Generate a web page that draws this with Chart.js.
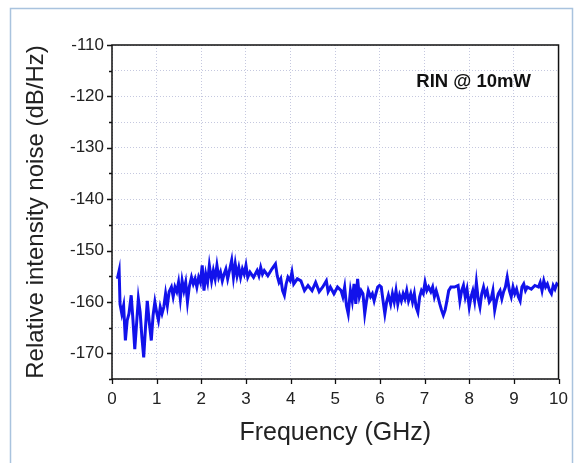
<!DOCTYPE html>
<html>
<head>
<meta charset="utf-8">
<script src="https://cdn.jsdelivr.net/npm/chart.js@4"></script>
<style>
  html, body { margin: 0; padding: 0; background: #fff; }
  #wrap { width: 578px; height: 463px; position: relative; }
</style>
</head>
<body>
<div id="wrap"><canvas id="rinChart" width="578" height="463"></canvas></div>
<script>
const freqGHz = [
  0.12, 0.16, 0.18, 0.22, 0.26, 0.30, 0.34, 0.38, 0.43, 0.47, 0.51, 0.55, 0.59, 0.63, 0.67, 0.71,
  0.75, 0.79, 0.83, 0.88, 0.92, 0.96, 1.00, 1.04, 1.08, 1.12, 1.16, 1.20, 1.24, 1.28, 1.33, 1.37,
  1.41, 1.45, 1.49, 1.53, 1.57, 1.61, 1.65, 1.69, 1.73, 1.78, 1.82, 1.86, 1.90, 1.94, 1.98, 2.02,
  2.06, 2.10, 2.14, 2.18, 2.23, 2.27, 2.31, 2.35, 2.39, 2.43, 2.47, 2.51, 2.55, 2.59, 2.63, 2.68,
  2.72, 2.76, 2.80, 2.84, 2.88, 2.92, 2.96, 3.00, 3.04, 3.09, 3.17, 3.25, 3.29, 3.33, 3.37, 3.41,
  3.49, 3.58, 3.66, 3.70, 3.74, 3.78, 3.82, 3.86, 3.90, 3.94, 3.99, 4.03, 4.07, 4.15, 4.23, 4.31,
  4.39, 4.48, 4.56, 4.64, 4.72, 4.80, 4.84, 4.89, 4.97, 5.05, 5.13, 5.17, 5.21, 5.25, 5.29, 5.34,
  5.38, 5.42, 5.46, 5.50, 5.54, 5.58, 5.62, 5.66, 5.70, 5.74, 5.79, 5.83, 5.87, 5.91, 5.95, 5.99,
  6.03, 6.07, 6.11, 6.15, 6.19, 6.24, 6.28, 6.32, 6.36, 6.40, 6.44, 6.48, 6.52, 6.56, 6.60, 6.64,
  6.69, 6.73, 6.77, 6.81, 6.85, 6.89, 6.93, 6.97, 7.01, 7.05, 7.09, 7.14, 7.18, 7.22, 7.26, 7.30,
  7.34, 7.38, 7.42, 7.46, 7.50, 7.54, 7.59, 7.67, 7.75, 7.79, 7.83, 7.87, 7.91, 7.95, 8.00, 8.04,
  8.08, 8.12, 8.16, 8.20, 8.24, 8.28, 8.32, 8.36, 8.40, 8.45, 8.49, 8.53, 8.57, 8.61, 8.65, 8.69,
  8.73, 8.77, 8.81, 8.85, 8.90, 8.94, 8.98, 9.02, 9.06, 9.10, 9.14, 9.18, 9.22, 9.26, 9.30, 9.39,
  9.47, 9.55, 9.59, 9.63, 9.67, 9.71, 9.75, 9.80, 9.84, 9.88, 9.92, 9.96, 10.00
];
const rinDb = [
  -155.5, -153.9, -160.4, -162.3, -160.7, -167.5, -163.6, -162.3, -158.7, -163.6, -169.2, -164.3, -159.4, -162.0, -166.9, -170.8,
  -165.0, -159.8, -163.6, -167.5, -162.6, -160.0, -162.0, -163.6, -161.0, -162.3, -161.0, -158.4, -160.7, -158.0, -157.1, -159.0,
  -157.1, -158.0, -156.2, -159.4, -155.9, -157.8, -156.2, -160.0, -157.1, -155.2, -156.5, -155.5, -157.1, -155.2, -156.2, -152.9,
  -157.8, -154.6, -156.2, -152.9, -155.9, -153.9, -155.5, -152.9, -155.2, -154.2, -155.9, -154.6, -153.6, -155.5, -153.9, -151.9,
  -155.2, -152.6, -154.9, -153.3, -155.2, -153.6, -154.6, -152.9, -155.2, -154.2, -155.2, -153.9, -154.9, -153.3, -154.6, -153.9,
  -154.9, -153.6, -152.6, -154.9, -156.2, -155.5, -157.8, -158.7, -156.5, -155.2, -155.9, -154.2, -156.5, -155.5, -155.9, -157.8,
  -156.8, -157.8, -156.2, -158.0, -157.1, -155.9, -158.0, -157.1, -158.4, -157.1, -157.8, -159.0, -157.1, -160.7, -162.3, -157.8,
  -159.8, -156.5, -160.4, -155.5, -159.0, -157.8, -158.4, -162.3, -159.8, -157.8, -159.0, -158.4, -159.8, -158.4, -157.1, -156.8,
  -157.1, -159.8, -162.3, -160.0, -158.7, -160.4, -158.4, -160.0, -157.8, -160.4, -158.7, -159.8, -158.4, -159.4, -157.8, -159.8,
  -158.4, -160.0, -158.4, -161.0, -162.0, -159.0, -157.8, -158.4, -156.2, -157.8, -157.1, -158.0, -157.1, -159.0, -157.8, -159.0,
  -160.4, -161.6, -162.6, -161.6, -159.8, -157.8, -157.1, -157.1, -156.8, -159.8, -157.8, -156.8, -159.0, -157.5, -161.0, -159.0,
  -157.8, -159.8, -156.2, -159.4, -161.0, -158.4, -157.1, -158.7, -157.8, -160.0, -159.4, -157.8, -161.6, -159.8, -158.4, -157.8,
  -159.4, -158.0, -157.1, -155.2, -157.8, -159.0, -157.1, -158.4, -157.5, -159.0, -159.8, -157.1, -156.5, -157.8, -157.1, -157.5,
  -156.8, -157.1, -156.2, -157.8, -155.9, -157.1, -156.5, -157.8, -158.4, -156.8, -157.5, -156.5, -156.8
];
const yMajorTicks = [-110, -120, -130, -140, -150, -160, -170];
const xTicks = [0, 1, 2, 3, 4, 5, 6, 7, 8, 9, 10];
const annotationText = "RIN @ 10mW";

const FONT = "'Liberation Sans', Arial, sans-serif";

const decor = {
  id: "decor",
  beforeDraw(chart) {
    const ctx = chart.ctx;
    ctx.save();
    ctx.fillStyle = "#fff";
    ctx.fillRect(0, 0, chart.width, chart.height);
    ctx.strokeStyle = "#a9c3de";
    ctx.lineWidth = 1.5;
    ctx.strokeRect(10.5, 8.5, 562, 470);
    ctx.restore();
  },
  afterDraw(chart) {
    const ctx = chart.ctx;
    const a = chart.chartArea;
    const xs = chart.scales.x, ys = chart.scales.y;
    ctx.save();
    ctx.strokeStyle = "#111";
    ctx.lineWidth = 1.5;
    ctx.strokeRect(a.left, a.top, a.right - a.left, a.bottom - a.top);
    ctx.lineWidth = 1.3;
    ctx.beginPath();
    for (let v = -175; v <= -110; v += 5) {
      const y = Math.round(ys.getPixelForValue(v)) + 0.5;
      const len = v % 10 === 0 ? 5 : 3;
      ctx.moveTo(a.left - len, y);
      ctx.lineTo(a.left, y);
    }
    xTicks.forEach(v => {
      const x = Math.round(xs.getPixelForValue(v)) + 0.5;
      ctx.moveTo(x, a.bottom);
      ctx.lineTo(x, a.bottom + 5);
    });
    ctx.stroke();
    ctx.fillStyle = "#111";
    ctx.font = "bold 18.5px " + FONT;
    ctx.textAlign = "center";
    ctx.textBaseline = "middle";
    ctx.fillText(annotationText, xs.getPixelForValue(8.1), ys.getPixelForValue(-117.1));
    ctx.restore();
  }
};

new Chart(document.getElementById("rinChart").getContext("2d"), {
  type: "line",
  data: {
    datasets: [{
      label: "RIN",
      data: freqGHz.map((f, i) => ({ x: f, y: rinDb[i] })),
      borderColor: "rgb(18,18,235)",
      borderWidth: 3,
      pointRadius: 0,
      tension: 0,
      fill: false
    }]
  },
  options: {
    responsive: false,
    animation: false,
    devicePixelRatio: 1,
    layout: { padding: { left: 0, right: 16, top: 45, bottom: 0 } },
    plugins: { legend: { display: false }, tooltip: { enabled: false } },
    scales: {
      x: {
        type: "linear",
        min: 0,
        max: 10,
        afterFit(scale) { scale.height = 84; },
        afterBuildTicks(scale) { scale.ticks = xTicks.map(v => ({ value: v })); },
        ticks: {
          color: "#222",
          font: { family: FONT, size: 17 },
          padding: 10,
          maxRotation: 0
        },
        grid: {
          color: "#c5c8df",
          lineWidth: 1,
          drawTicks: false
        },
        border: { display: false, dash: [1, 2] },
        title: {
          display: true,
          text: "Frequency (GHz)",
          color: "#222",
          font: { family: FONT, size: 25 },
          padding: { top: 10, bottom: 15 }
        }
      },
      y: {
        type: "linear",
        min: -175,
        max: -110,
        afterFit(scale) { scale.width = 112; },
        afterBuildTicks(scale) {
          const t = [];
          for (let v = -175; v <= -110; v += 5) t.push({ value: v });
          scale.ticks = t;
        },
        ticks: {
          color: "#222",
          font: { family: FONT, size: 17 },
          padding: 8,
          callback: v => (yMajorTicks.includes(v) ? String(v) : "")
        },
        grid: {
          color: "#c5c8df",
          lineWidth: 1,
          drawTicks: false
        },
        border: { display: false, dash: [1, 2] },
        title: {
          display: true,
          text: "Relative intensity noise (dB/Hz)",
          color: "#222",
          font: { family: FONT, size: 24 },
          padding: { top: 22, bottom: 4 }
        }
      }
    }
  },
  plugins: [decor]
});
</script>
</body>
</html>
